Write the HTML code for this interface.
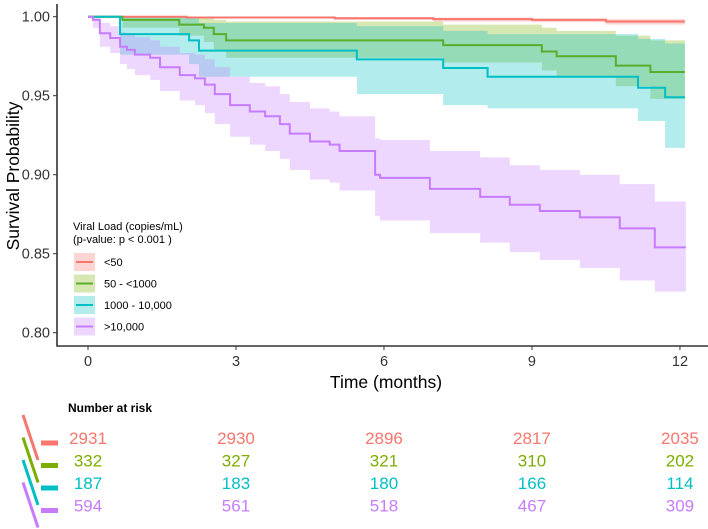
<!DOCTYPE html>
<html><head><meta charset="utf-8"><style>
body{margin:0;background:#fff;}
svg{display:block;font-family:"Liberation Sans",Arial,sans-serif;}
</style></head><body>
<svg id="chart" width="708" height="529" viewBox="0 0 708 529"></svg>
<script>
// ---- data ----
const groups = ["<50", "50 - <1000", "1000 - 10,000", ">10,000"];
const colors = ["#F8766D", "#5aad2a", "#00BFC4", "#C77CFF"];
const fills = ["#F8766D", "#7CAE00", "#00BFC4", "#C77CFF"];
// step times (months), survival, lower CI, upper CI
const timesA = [0, 2, 5, 7, 9, 10.5, 12.1];
const survA = [1.0, 0.9995, 0.999, 0.9985, 0.998, 0.997, 0.997];
const lowA = [1.0, 0.999, 0.998, 0.997, 0.9965, 0.995, 0.995];
const highA = [1.0, 1.0, 0.9998, 0.9995, 0.999, 0.9985, 0.9985];
const timesB = [0, 0.7, 1.85, 2.35, 2.55, 2.8, 7.2, 9.2, 9.5, 10.7, 11.4, 12.1];
const survB = [1.0, 0.998, 0.995, 0.993, 0.989, 0.985, 0.982, 0.978, 0.975, 0.969, 0.965, 0.965];
const lowB = [1.0, 0.993, 0.988, 0.984, 0.979, 0.974, 0.971, 0.966, 0.962, 0.956, 0.948, 0.948];
const highB = [1.0, 1.0, 1.0, 0.999, 0.998, 0.997, 0.995, 0.993, 0.991, 0.988, 0.985, 0.985];
const timesC = [0, 0.65, 2.05, 2.25, 5.45, 7.2, 8.1, 11.15, 11.7, 12.1];
const survC = [1.0, 0.989, 0.985, 0.9785, 0.973, 0.9675, 0.962, 0.955, 0.949, 0.949];
const lowC = [1.0, 0.976, 0.97, 0.962, 0.951, 0.944, 0.942, 0.934, 0.917, 0.917];
const highC = [1.0, 1.0, 0.999, 0.996, 0.994, 0.991, 0.989, 0.986, 0.983, 0.983];
const timesD = [0, 0.1, 0.24, 0.45, 0.65, 0.79, 0.95, 1.26, 1.46, 1.86, 2.17, 2.37, 2.57, 2.88, 3.28, 3.59, 3.89, 4.09, 4.5, 4.9, 5.1, 5.82, 5.92, 6.93, 7.95, 8.55, 9.16, 9.97, 10.78, 11.49, 12.12];
const survD = [1.0, 0.998, 0.9895, 0.9865, 0.981, 0.979, 0.976, 0.974, 0.968, 0.963, 0.961, 0.957, 0.951, 0.944, 0.94, 0.937, 0.932, 0.926, 0.921, 0.919, 0.915, 0.90, 0.898, 0.891, 0.886, 0.881, 0.877, 0.873, 0.866, 0.854, 0.854];
const lowD = [1.0, 0.993, 0.981, 0.977, 0.970, 0.967, 0.963, 0.960, 0.953, 0.947, 0.944, 0.939, 0.932, 0.924, 0.919, 0.915, 0.910, 0.903, 0.897, 0.895, 0.890, 0.874, 0.871, 0.863, 0.857, 0.851, 0.846, 0.841, 0.833, 0.826, 0.826];
const highD = [1.0, 1.0, 0.996, 0.994, 0.990, 0.989, 0.987, 0.985, 0.981, 0.977, 0.976, 0.973, 0.968, 0.962, 0.958, 0.956, 0.951, 0.946, 0.942, 0.940, 0.937, 0.923, 0.922, 0.915, 0.911, 0.906, 0.903, 0.900, 0.894, 0.883, 0.883];
const seriesTimes = [timesA, timesB, timesC, timesD];
const seriesSurv = [survA, survB, survC, survD];
const seriesLow = [lowA, lowB, lowC, lowD];
const seriesHigh = [highA, highB, highC, highD];
const yTicks = [1.0, 0.95, 0.9, 0.85, 0.8];
const yTickLabels = ["1.00", "0.95", "0.90", "0.85", "0.80"];
const xTicks = [0, 3, 6, 9, 12];
const riskA = [2931, 2930, 2896, 2817, 2035];
const riskB = [332, 327, 321, 310, 202];
const riskC = [187, 183, 180, 166, 114];
const riskD = [594, 561, 518, 467, 309];
const riskRows = [riskA, riskB, riskC, riskD];

// ---- scales ----
const X = t => 88 + t * 49.33;
const Y = s => 16.7 + (1 - s) * 1580;
const NS = "http://www.w3.org/2000/svg";
const svg = document.getElementById("chart");
function mk(tag, attrs, parent) {
  const e = document.createElementNS(NS, tag);
  for (const k in attrs) e.setAttribute(k, attrs[k]);
  (parent || svg).appendChild(e);
  return e;
}
function stepPath(ts, vs) {
  let d = "M" + X(ts[0]) + "," + Y(vs[0]);
  for (let i = 1; i < ts.length; i++) {
    d += "H" + X(ts[i]) + "V" + Y(vs[i]);
  }
  return d;
}
function bandPath(ts, lo, hi) {
  let d = "M" + X(ts[0]) + "," + Y(hi[0]);
  for (let i = 1; i < ts.length; i++) d += "H" + X(ts[i]) + "V" + Y(hi[i]);
  d += "V" + Y(lo[ts.length - 1]);
  for (let i = ts.length - 1; i > 0; i--) d += "H" + X(ts[i]) + "V" + Y(lo[i - 1]);
  d += "H" + X(ts[0]) + "Z";
  return d;
}
for (let g = 0; g < 4; g++) {
  const b = mk("path", {d: bandPath(seriesTimes[g], seriesLow[g], seriesHigh[g]), fill: fills[g], "fill-opacity": 0.3, stroke: "none"});
  
  
}
for (let g = 0; g < 4; g++) {
  const l = mk("path", {d: stepPath(seriesTimes[g], seriesSurv[g]), fill: "none", stroke: colors[g], "stroke-width": 2});
  
  
}
const ax = mk("path", {d: "M57,4V346H708", fill: "none", stroke: "#333", "stroke-width": 1.6});


yTicks.forEach((v, i) => {
  mk("line", {x1: 53, x2: 57, y1: Y(v), y2: Y(v), stroke: "#333", "stroke-width": 1});
  const t = mk("text", {x: 50, y: Y(v) + 5, "text-anchor": "end", "font-size": 14.5, fill: "#333"});
  t.textContent = yTickLabels[i];
  
  
});
xTicks.forEach(v => {
  mk("line", {x1: X(v), x2: X(v), y1: 346, y2: 350, stroke: "#333", "stroke-width": 1});
  const t = mk("text", {x: X(v), y: 366, "text-anchor": "middle", "font-size": 14.5, fill: "#333"});
  t.textContent = v;
  
  
});
const yt = mk("text", {x: 0, y: 0, transform: "translate(19,176) rotate(-90)", "text-anchor": "middle", "font-size": 17.5, fill: "#000"});
yt.textContent = "Survival Probability";


const xt = mk("text", {x: 386, y: 388, "text-anchor": "middle", "font-size": 17.5, fill: "#000"});
xt.textContent = "Time (months)";


const lt1 = mk("text", {x: 73, y: 230, "font-size": 11, fill: "#000"});
lt1.textContent = "Viral Load (copies/mL)";


const lt2 = mk("text", {x: 73, y: 243, "font-size": 11, fill: "#000"});
lt2.textContent = "(p-value: p < 0.001 )";


for (let g = 0; g < 4; g++) {
  const cy = 262 + g * 21.5;
  mk("rect", {x: 74, y: cy - 9, width: 21, height: 18, fill: fills[g], "fill-opacity": 0.3});
  mk("line", {x1: 76, x2: 93, y1: cy, y2: cy, stroke: colors[g], "stroke-width": 2});
  const t = mk("text", {x: 104, y: cy + 4, "font-size": 11, fill: "#000"});
  t.textContent = groups[g];
  
  
}
const rt = mk("text", {x: 68, y: 412, "font-size": 12, "font-weight": "bold", fill: "#000"});
rt.textContent = "Number at risk";


for (let g = 0; g < 4; g++) {
  const cy = 443 + g * 22.5;
  mk("line", {x1: 23, y1: cy - 28, x2: 38, y2: cy + 17, stroke: fills[g], "stroke-width": 3});
  mk("rect", {x: 41, y: cy - 2.5, width: 17, height: 5, fill: fills[g]});
  riskRows[g].forEach((n, i) => {
    const t = mk("text", {x: X(xTicks[i]), y: cy + 1, "text-anchor": "middle", "font-size": 17, fill: fills[g]});
    t.textContent = n;
    
    
  });
}
</script>
</body></html>
